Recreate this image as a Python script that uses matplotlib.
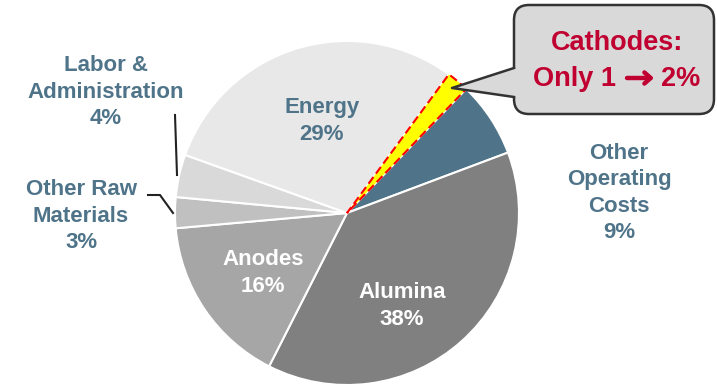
import matplotlib
matplotlib.use('Agg')
import matplotlib.pyplot as plt
from matplotlib.patches import FancyBboxPatch, Polygon

## Slice data (clockwise from the cathodes slice)
names = ['Cathodes', 'Other Operating Costs', 'Alumina', 'Anodes',
         'Other Raw Materials', 'Labor & Administration', 'Energy']
shares = [2.1, 7.1, 38.2, 16.1, 2.9, 4.0, 29.6]
colors = ['#FFFF00', '#4F7489', '#808080', '#A6A6A6', '#C0C0C0', '#D9D9D9', '#E8E8E8']

## Label text
label_text = ['Energy\n29%', 'Other\nOperating\nCosts\n9%', 'Alumina\n38%', 'Anodes\n16%',
              'Other Raw\nMaterials\n3%', 'Labor &\nAdministration\n4%']
callout_title = 'Cathodes:'
callout_from = 'Only 1'
callout_to = '2%'

W, H = 717, 388
fig = plt.figure(figsize=(W / 100, H / 100), dpi=100)
ax = fig.add_axes([0, 0, 1, 1])

cx, cy, r = 347, H - 213, 172
wedges, _ = ax.pie(shares, colors=colors, startangle=53.7, counterclock=False,
                   center=(cx, cy), radius=r,
                   wedgeprops=dict(edgecolor='white', linewidth=1.5))
wedges[0].set_edgecolor('#FF0000')
wedges[0].set_linestyle((0, (4, 2)))
wedges[0].set_zorder(3)

ax.set_xlim(0, W)
ax.set_ylim(0, H)
ax.axis('off')

fam = ['Liberation Sans', 'DejaVu Sans']
blue = '#4F7489'
kw = dict(ha='center', va='center', fontsize=16, fontweight='bold', family=fam,
          linespacing=1.33)
ax.text(322, H - 121, label_text[0], color=blue, **kw)
ax.text(619, H - 193, label_text[1], color=blue, **kw)
ax.text(402, H - 306, label_text[2], color='white', **kw)
ax.text(263, H - 273, label_text[3], color='white', **kw)
ax.text(81, H - 216, label_text[4], color=blue, **kw)
ax.text(106, H - 92, label_text[5], color=blue, **kw)

## leader lines
ax.plot([175, 177], [H - 115, H - 175], color='#222222', lw=1.5)
ax.plot([148, 160, 173], [H - 195, H - 195, H - 213], color='#222222', lw=1.5)

## callout box with pointer
box = FancyBboxPatch((514, H - 114), 200, 109, boxstyle='round,pad=0,rounding_size=15',
                     facecolor='#D9D9D9', edgecolor='#333333', linewidth=1.8, zorder=4)
ax.add_patch(box)
ptr = Polygon([(516, H - 68), (452, H - 88), (516, H - 97)], closed=True,
              facecolor='#D9D9D9', edgecolor='none', zorder=5)
ax.add_patch(ptr)
ax.plot([514, 452, 514], [H - 68, H - 88, H - 97], color='#333333', lw=1.8, zorder=6)

red = '#C00030'
ckw = dict(va='center', fontsize=19.5, fontweight='bold', family=fam, color=red, zorder=7)
ax.text(617, H - 43, callout_title, ha='center', **ckw)
ax.text(616, H - 79, callout_from, ha='right', **ckw)
ax.text(661, H - 79, callout_to, ha='left', **ckw)
ax.annotate('', xy=(654, H - 78), xytext=(627, H - 78),
            arrowprops=dict(arrowstyle='->,head_length=0.45,head_width=0.4',
                            color=red, lw=3.2, shrinkA=0, shrinkB=0), zorder=7)

fig.savefig('out.png', dpi=100)
